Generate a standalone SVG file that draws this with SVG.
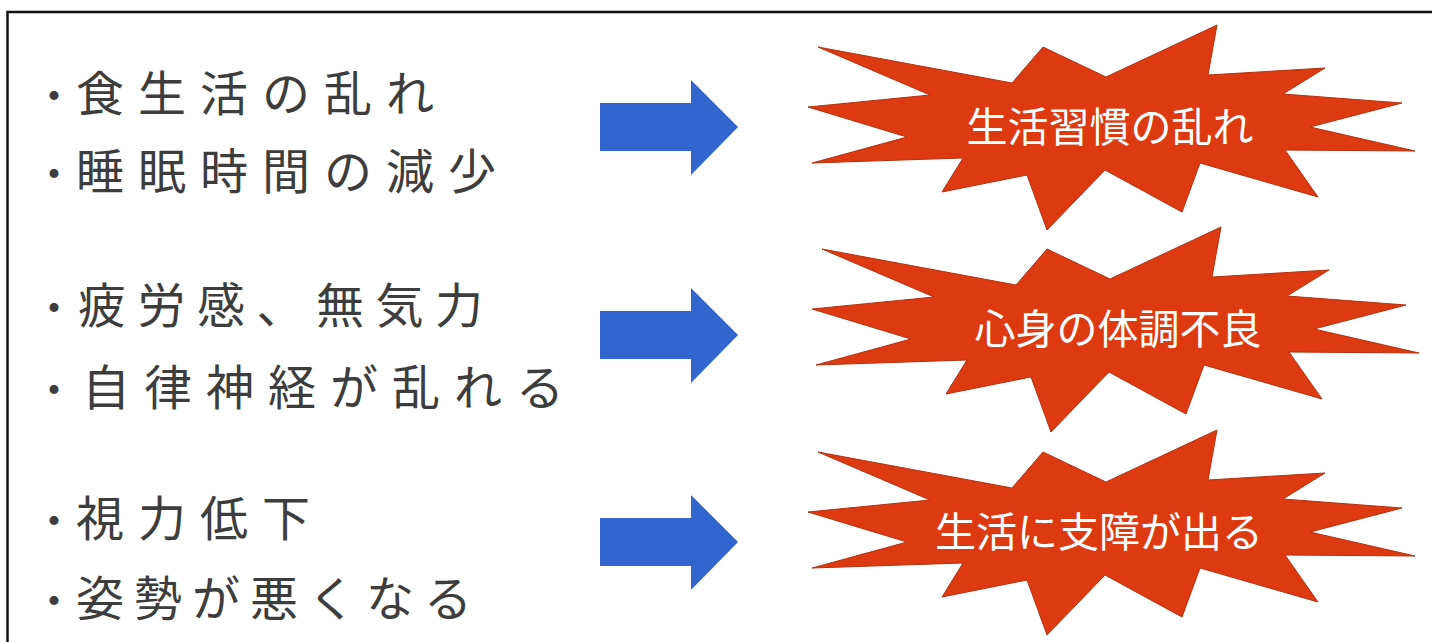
<svg xmlns="http://www.w3.org/2000/svg" xmlns:xlink="http://www.w3.org/1999/xlink" width="1432" height="642" viewBox="0 0 1432 642">
  <style>
    .cause { font-family: "Noto Sans CJK JP", "Noto Sans", sans-serif; font-size: 48px; fill: #3d3d3d; }
    .bul { font-size: 42px; }
    .sp { letter-spacing: 14px; }
    .burst { fill: #DD3A12; stroke: #B3300E; stroke-width: 1; stroke-linejoin: miter; }
    .blabel { font-family: "Noto Sans CJK JP", "Noto Sans", sans-serif; font-size: 41px; fill: #ffffff; text-anchor: middle; }
    .arrow { fill: #3265CD; }
  </style>
  <defs>
    <polygon id="star" points="818,47 1012,83 1043,47 1106,77 1217,25 1208,75 1325,68 1283,94 1402,103 1310,127 1415,151 1285,150 1318,197 1200,163 1182,212 1105,170 1047,230 1027,175 942,192 963,158 812,163 907,137 808,107 930,95"/>
    <polygon id="arr" points="600,103 691,103 691,80 738,127 691,175 691,151 600,151"/>
  </defs>
  <rect width="1432" height="642" fill="#ffffff"/>
  <rect x="7.5" y="12" width="1600" height="800" fill="none" stroke="#111111" stroke-width="2.5"/>

  <g id="causes1">
    <text class="cause" y="111"><tspan class="bul" x="33">・</tspan><tspan class="sp" x="76">食生活の乱れ</tspan></text>
    <text class="cause" y="189"><tspan class="bul" x="33">・</tspan><tspan class="sp" x="76">睡眠時間の減少</tspan></text>
  </g>
  <g id="causes2">
    <text class="cause" y="323"><tspan class="bul" x="33">・</tspan><tspan x="78" style="letter-spacing:11.5px">疲労感、無気力</tspan></text>
    <text class="cause" y="405"><tspan class="bul" x="33">・</tspan><tspan class="sp" x="82">自律神経が乱れる</tspan></text>
  </g>
  <g id="causes3">
    <text class="cause" y="536"><tspan class="bul" x="33">・</tspan><tspan class="sp" x="76">視力低下</tspan></text>
    <text class="cause" y="616"><tspan class="bul" x="33">・</tspan><tspan x="76" style="letter-spacing:10px">姿勢が悪くなる</tspan></text>
  </g>

  <g id="connectors">
    <use xlink:href="#arr" href="#arr" class="arrow"/>
    <use xlink:href="#arr" href="#arr" class="arrow" transform="translate(0,208)"/>
    <use xlink:href="#arr" href="#arr" class="arrow" transform="translate(0,415)"/>
  </g>

  <g id="effect1">
    <use xlink:href="#star" href="#star" class="burst"/>
    <text class="blabel" x="1110" y="142">生活習慣の乱れ</text>
  </g>
  <g id="effect2">
    <use xlink:href="#star" href="#star" class="burst" transform="translate(4,202)"/>
    <text class="blabel" x="1118" y="344">心身の体調不良</text>
  </g>
  <g id="effect3">
    <use xlink:href="#star" href="#star" class="burst" transform="translate(0,405)"/>
    <text class="blabel" x="1099" y="547">生活に支障が出る</text>
  </g>
</svg>
